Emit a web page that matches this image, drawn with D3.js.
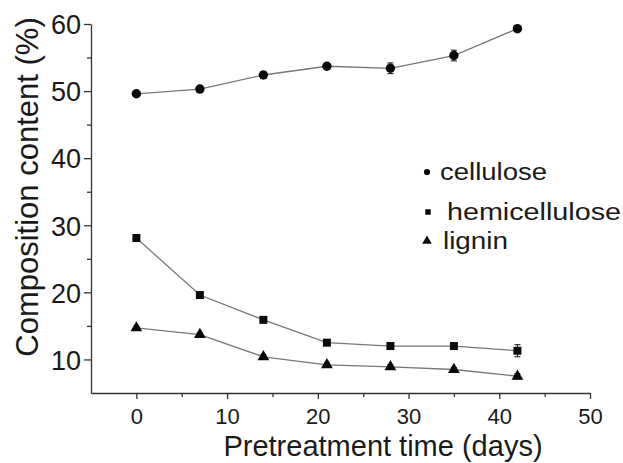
<!DOCTYPE html>
<html>
<head>
<meta charset="utf-8">
<script src="https://cdn.jsdelivr.net/npm/d3@7/dist/d3.min.js"></script>
<style>
  body { margin: 0; background: #fff; }
  svg text { font-family: "Liberation Sans", Arial, sans-serif; fill: #1a1a1a; }
</style>
</head>
<body>
<script>
// pretreatment days
var days = [0, 7, 14, 21, 28, 35, 42];
// composition content (%)
var cellulose = [49.6, 50.3, 52.4, 53.7, 53.4, 55.3, 59.3];
var hemicellulose = [28.1, 19.6, 15.9, 12.5, 12.0, 12.0, 11.3];
var lignin = [14.7, 13.7, 10.4, 9.2, 8.9, 8.5, 7.5];
// small error bars
var celluloseErr = [0.3, 0.3, 0.5, 0.3, 0.8, 0.8, 0.3];
var hemicelluloseErr = [0.3, 0.3, 0.3, 0.3, 0.3, 0.4, 0.9];
var ligninErr = [0.3, 0.3, 0.3, 0.3, 0.3, 0.3, 0.4];
var seriesNames = ["cellulose", "hemicellulose", "lignin"];
var xTicks = [0, 10, 20, 30, 40, 50];
var yTicks = [10, 20, 30, 40, 50, 60];

function init() {
    var w = 623, h = 463;
    var svg = d3.select("body").append("svg")
        .attr("width", w)
        .attr("height", h);

    var x = d3.scaleLinear().domain([-5, 50]).range([91, 590]);
    var y = d3.scaleLinear().domain([5, 60]).range([393, 24]);

    //axes
    var xAxis = svg.append("g")
        .attr("transform", "translate(0," + y(5) + ")")
        .call(d3.axisBottom(x).tickValues(xTicks).tickSize(6).tickSizeOuter(0).tickPadding(9));
    svg.append("g")
        .attr("transform", "translate(0," + y(5) + ")")
        .call(d3.axisBottom(x).tickValues([5, 15, 25, 35, 45]).tickSize(4).tickFormat(""))
        .select(".domain").remove();
    xAxis.selectAll("text").style("font-size", "22px").attr("fill", "#1a1a1a");

    var yAxis = svg.append("g")
        .attr("transform", "translate(" + x(-5) + ",0)")
        .call(d3.axisLeft(y).tickValues(yTicks).tickSize(7).tickSizeOuter(0).tickPadding(3));
    svg.append("g")
        .attr("transform", "translate(" + x(-5) + ",0)")
        .call(d3.axisLeft(y).tickValues([15, 25, 35, 45, 55]).tickSize(4).tickFormat(""))
        .select(".domain").remove();
    yAxis.selectAll("text").style("font-size", "27px").attr("fill", "#1a1a1a").attr("dy", "0.36em");

    svg.selectAll(".domain, .tick line").attr("stroke", "#333").attr("stroke-width", 1.3);

    //axis titles
    svg.append("text")
        .attr("x", 383)
        .attr("y", 456)
        .attr("text-anchor", "middle")
        .style("font-size", "29px")
        .text("Pretreatment time (days)");
    svg.append("text")
        .attr("transform", "translate(38,187) rotate(-90)")
        .attr("text-anchor", "middle")
        .style("font-size", "31px")
        .text("Composition content (%)");

    var data = [
        { name: seriesNames[0], values: cellulose, err: celluloseErr, symbol: d3.symbolCircle, size: 70 },
        { name: seriesNames[1], values: hemicellulose, err: hemicelluloseErr, symbol: d3.symbolSquare, size: 64 },
        { name: seriesNames[2], values: lignin, err: ligninErr, symbol: d3.symbolTriangle, size: 60 }
    ];

    var line = d3.line()
        .x(function (d) { return x(d[0]); })
        .y(function (d) { return y(d[1]); });

    data.forEach(function (s) {
        var pts = days.map(function (d, i) { return [d, s.values[i], s.err[i]]; });
        svg.append("path")
            .attr("d", line(pts))
            .attr("fill", "none")
            .attr("stroke", "#777")
            .attr("stroke-width", 1.3);
        //error bars
        var eb = svg.append("g").attr("stroke", "#111").attr("stroke-width", 1);
        pts.forEach(function (p) {
            eb.append("line").attr("x1", x(p[0])).attr("x2", x(p[0]))
                .attr("y1", y(p[1] - p[2])).attr("y2", y(p[1] + p[2]));
            eb.append("line").attr("x1", x(p[0]) - 3).attr("x2", x(p[0]) + 3)
                .attr("y1", y(p[1] + p[2])).attr("y2", y(p[1] + p[2]));
            eb.append("line").attr("x1", x(p[0]) - 3).attr("x2", x(p[0]) + 3)
                .attr("y1", y(p[1] - p[2])).attr("y2", y(p[1] - p[2]));
        });
        svg.selectAll(null)
            .data(pts)
            .enter()
            .append("path")
            .attr("d", d3.symbol().type(s.symbol).size(s.size))
            .attr("transform", function (p) { return "translate(" + x(p[0]) + "," + y(p[1]) + ")"; })
            .attr("fill", "#0a0a0a");
    });

    //legend
    var legendRows = [
        { mx: 427, my: 172, tx: 440, ty: 180, len: 107, size: 30 },
        { mx: 428, my: 212, tx: 447, ty: 220, len: 174, size: 30 },
        { mx: 427, my: 241, tx: 443, ty: 249, len: 65, size: 40 }
    ];
    data.forEach(function (s, i) {
        var r = legendRows[i];
        svg.append("path")
            .attr("d", d3.symbol().type(s.symbol).size(r.size))
            .attr("transform", "translate(" + r.mx + "," + r.my + ")")
            .attr("fill", "#0a0a0a");
        svg.append("text")
            .attr("x", r.tx)
            .attr("y", r.ty)
            .attr("textLength", r.len)
            .attr("lengthAdjust", "spacingAndGlyphs")
            .style("font-size", "23px")
            .text(s.name);
    });
}
window.onload = init;
</script>
</body>
</html>
